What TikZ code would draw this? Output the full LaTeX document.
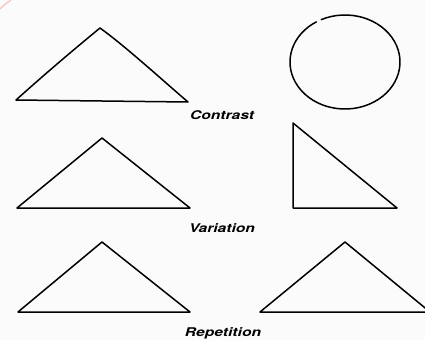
\documentclass[tikz,border=0pt]{standalone}
\usepackage{fontspec}
\usepackage{tikz}
\newfontfamily\labelfont{TeX Gyre Heros}
\tikzset{
  figline/.style={line width=1.5pt, line join=round},
  figlabel/.style={font=\labelfont\bfseries\itshape\fontsize{12}{14}\selectfont, xscale=1.3, inner sep=0pt}
}

\begin{document}
\begin{tikzpicture}[x=1pt, y=-1pt]
            \useasboundingbox (0,0) rectangle (425,340);
            \fill[gray!3] (0,0) rectangle (425,340);
            \draw[red!25, line width=1.2pt] (0,9) .. controls (4,5) .. (11,0);
            % contrast
            \draw[figline] (16,100) .. controls (45,74) and (72,51) .. (100,28)
                .. controls (125,46) and (160,78) .. (188,102) -- cycle;
            \draw[figline] ([shift={(345,62)}]-116:55 and 47)
                arc[start angle=-116, end angle=239, x radius=55, y radius=47];
            \node[figlabel] (contrast) at (222,115) {Contrast};
            % variation
            \draw[figline] (17,208) -- (102,138) -- (190,208) -- cycle;
            \draw[figline] (293,123) -- (293,208) -- (397,208) -- cycle;
            \node[figlabel] (variation) at (222,228) {Variation};
            % repetition
            \draw[figline] (18,312) -- (102,242) -- (190,312) -- cycle;
            \draw[figline] (260,312) -- (345,242) -- (430,312) -- cycle;
            \node[figlabel] (repetition) at (223,333) {Repetition};
          \end{tikzpicture}
\end{document}
